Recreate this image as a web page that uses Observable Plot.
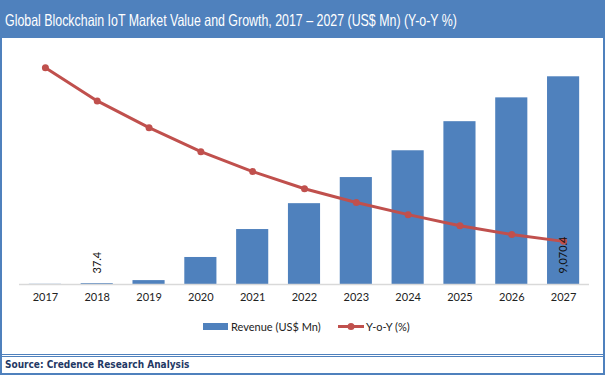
<!DOCTYPE html>
<html>
<head>
<meta charset="utf-8">
<script src="https://cdn.jsdelivr.net/npm/d3@7"></script>
<script src="https://cdn.jsdelivr.net/npm/@observablehq/plot@0.6"></script>
<style>
  html, body { margin: 0; padding: 0; background: #fff; }
  #page { position: relative; width: 605px; height: 375px; overflow: hidden; background: #fff; }
  #titlebar { position: absolute; left: 0; top: 0; width: 605px; height: 38px; background: #4F81BD; }
  #title { position: absolute; left: 5px; top: 0; color: #fff; transform-origin: 0 0;
    font-family: "Liberation Sans", Arial, sans-serif; font-size: 16.5px; line-height: 40px; white-space: nowrap; }
  .vline { position: absolute; background: #4F81BD; }
  #chart { position: absolute; left: 0; top: 38px; width: 605px; height: 274px; }
  #chart svg { position: absolute; left: 0; top: 0; }
  #legend { position: absolute; left: 0; top: 316px; width: 605px; height: 20px; font-family: Lato, sans-serif; font-size: 11px; color: #222; }
  #source { position: absolute; left: 5px; top: 359px; font-family: "DejaVu Sans Condensed", "DejaVu Sans", sans-serif;
    font-weight: bold; font-size: 10px; color: #1F3864; white-space: nowrap; }
</style>
</head>
<body>
<div id="page">
  <div id="titlebar"><span id="title">Global Blockchain IoT Market Value and Growth, 2017 – 2027 (US$ Mn) (Y-o-Y %)</span></div>
  <div id="chart"></div>
  <div id="legend"></div>
  <div class="vline" style="left:0;top:38px;width:2px;height:337px"></div>
  <div class="vline" style="left:603px;top:38px;width:2px;height:337px"></div>
  <div class="vline" style="left:0;top:354px;width:605px;height:1px"></div>
  <div class="vline" style="left:0;top:356px;width:605px;height:1px"></div>
  <div class="vline" style="left:0;top:373px;width:605px;height:2px"></div>
  <div id="source">Source: Credence Research Analysis</div>
</div>
<script>
const years = ["2017", "2018", "2019", "2020", "2021", "2022", "2023", "2024", "2025", "2026", "2027"];
const revenue = [8, 37.4, 170, 1180, 2400, 3530, 4670, 5840, 7110, 8150, 9070.4];
const yoy = [56.8, 48.1, 41.1, 34.8, 29.6, 25.1, 21.5, 18.3, 15.4, 13.1, 11.3];
const labeledYears = ["2018", "2027"];
const seriesNames = ["Revenue (US$ Mn)", "Y-o-Y (%)"];

const BLUE = "#4F81BD", RED = "#C0504D";
const data = years.map((y, i) => ({year: y, revenue: revenue[i], yoy: yoy[i]}));
const labels = data.filter(d => labeledYears.includes(d.year));

// squeeze title to the reference's narrow width
const title = document.getElementById("title");
const tw = title.getBoundingClientRect().width;
title.style.transform = `scaleX(${452 / tw})`;

const W = 605, H = 274;
const common = {
  width: W, height: H,
  marginLeft: 19, marginRight: 16, marginTop: 17, marginBottom: 28,
  style: {fontFamily: "Lato, sans-serif", fontSize: "11px", color: "#222", background: "transparent"}
};
const xOpts = {domain: years, paddingInner: 0.38, paddingOuter: 0.19, align: 0.5, round: false};

const bars = Plot.plot({
  ...common,
  x: {...xOpts, label: null, tickSize: 0, tickPadding: 9},
  y: {domain: [0, 10000], axis: null},
  marks: [
    Plot.barY(data, {x: "year", y: "revenue", fill: BLUE}),
    Plot.ruleY([0], {stroke: "#D9D9D9", strokeWidth: 1.5}),
    Plot.axisX({tickSize: 0, tickPadding: 9, fill: "#222", label: null})
  ]
});

const line = Plot.plot({
  ...common,
  x: {...xOpts, axis: null},
  y: {domain: [0, 60], axis: null},
  marks: [
    Plot.line(data, {x: "year", y: "yoy", stroke: RED, strokeWidth: 3}),
    Plot.dot(data, {x: "year", y: "yoy", fill: RED, r: 3.5}),
    Plot.text(labels, {x: "year", y: () => 0, text: d => d3.format(",.1f")(d.revenue), rotate: -90,
      textAnchor: "start", lineAnchor: "middle", dy: -11, fill: "#111", fontSize: 11})
  ]
});

const chart = document.getElementById("chart");
chart.appendChild(bars);
chart.appendChild(line);

// legend
const legend = document.getElementById("legend");
const lsvg = d3.select(legend).append("svg").attr("width", W).attr("height", 20);
const items = lsvg.append("g");
items.append("rect").attr("x", 203).attr("y", 7).attr("width", 25).attr("height", 7).attr("fill", BLUE);
items.append("text").attr("x", 231).attr("y", 14.5).text(seriesNames[0]).attr("fill", "#222")
  .style("font-family", "Lato, sans-serif").style("font-size", "11px");
items.append("line").attr("x1", 338).attr("x2", 364).attr("y1", 10.5).attr("y2", 10.5).attr("stroke", RED).attr("stroke-width", 3);
items.append("circle").attr("cx", 351).attr("cy", 10.5).attr("r", 3.5).attr("fill", RED);
items.append("text").attr("x", 366).attr("y", 14.5).text(seriesNames[1]).attr("fill", "#222")
  .style("font-family", "Lato, sans-serif").style("font-size", "11px");
</script>
</body>
</html>
